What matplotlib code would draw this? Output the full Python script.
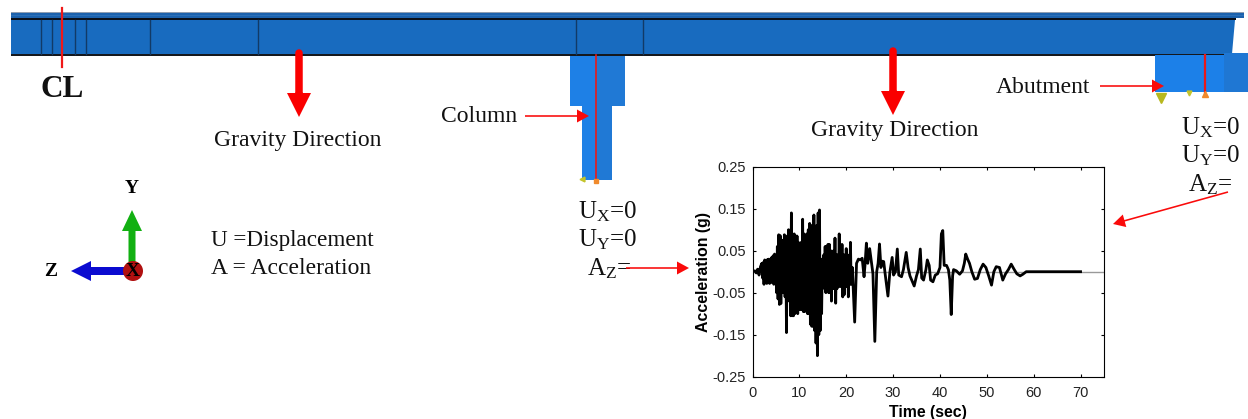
import matplotlib
matplotlib.use('Agg')
import matplotlib.pyplot as plt
from matplotlib.patches import Rectangle, Polygon, Circle, FancyArrow

plt.rcParams['font.family'] = ['Liberation Serif', 'DejaVu Serif']
plt.rcParams['mathtext.fontset'] = 'custom'
plt.rcParams['mathtext.rm'] = 'Liberation Serif'

# record: start, dense part, then the tail
start_time = [0, 0.5, 0.8, 1.1, 1.4, 1.7]
start_accel = [0, 0.002, -0.003, 0.006, -0.008, 0.012]

dense_time = [2.0, 2.15, 2.3, 2.45, 2.6, 2.75, 2.9, 3.05, 3.2, 3.35, 3.5, 3.65, 3.8, 3.95, 4.1, 4.25,
              4.4, 4.55, 4.7, 4.85, 5.0, 5.15, 5.3, 5.45, 5.6, 5.75, 5.9, 6.05, 6.2, 6.35, 6.5, 6.65,
              6.8, 6.95, 7.1, 7.25, 7.4, 7.55, 7.7, 7.85, 8.0, 8.15, 8.3, 8.45, 8.6, 8.75, 8.9, 9.05,
              9.2, 9.35, 9.5, 9.65, 9.8, 9.95, 10.1, 10.25, 10.4, 10.55, 10.7, 10.85, 11.0, 11.15, 11.3, 11.45,
              11.6, 11.75, 11.9, 12.05, 12.2, 12.35, 12.5, 12.65, 12.8, 12.95, 13.1, 13.25, 13.4, 13.55, 13.7, 13.85,
              14.0, 14.15, 14.3, 14.45, 14.6, 14.75, 14.9, 15.05, 15.2, 15.35, 15.5, 15.65, 15.8, 15.95, 16.1, 16.25,
              16.4, 16.55, 16.7, 16.85, 17.0, 17.15, 17.3, 17.45, 17.6, 17.75, 17.9, 18.05, 18.2, 18.35, 18.5, 18.65,
              18.8, 18.95, 19.1, 19.25, 19.4, 19.55, 19.7, 19.85, 20.0, 20.15, 20.3, 20.45, 20.6, 20.75, 20.9, 21.05]
dense_accel = [0.02, -0.015, 0.022, -0.03, 0.028, -0.022, 0.026, -0.028, 0.029, -0.022, 0.03, -0.028, 0.024, -0.026, 0.034, -0.024,
               0.038, -0.03, 0.042, -0.028, 0.036, -0.05, 0.06, -0.065, 0.088, -0.078, 0.086, -0.076, 0.055, -0.05, 0.075, -0.05,
               0.088, -0.06, 0.08, -0.145, 0.085, -0.06, 0.1, -0.07, 0.095, -0.105, 0.14, -0.105, 0.085, -0.105, 0.09, -0.1,
               0.085, -0.09, 0.085, -0.1, 0.07, -0.09, 0.065, -0.09, 0.07, -0.09, 0.125, -0.095, 0.09, -0.095, 0.07, -0.06,
               0.09, -0.1, 0.1, -0.1, 0.115, -0.125, 0.11, -0.13, 0.1, -0.13, 0.135, -0.14, 0.09, -0.17, 0.11, -0.2,
               0.14, -0.15, 0.147, -0.14, 0.03, -0.1, 0.03, -0.03, 0.04, -0.04, 0.06, -0.05, 0.06, -0.045, 0.065, -0.05,
               0.065, -0.05, 0.05, -0.07, 0.04, -0.04, 0.05, -0.04, 0.08, -0.075, 0.04, -0.04, 0.04, -0.035, 0.09, -0.035,
               0.04, -0.035, 0.065, -0.06, 0.04, -0.055, 0.04, -0.035, 0.055, -0.035, 0.04, -0.06, 0.03, -0.03, 0.07, -0.03]

tail_time = [21.3, 21.8, 22.2, 22.6, 23.0, 23.4, 23.8, 24.0, 24.3, 24.6,
             25.0, 25.3, 25.7, 26.1, 26.5, 26.8, 27.1, 27.4, 27.7, 28.0,
             28.3, 28.9, 29.3, 29.8, 30.1, 30.5, 30.9, 31.2, 31.8, 32.2,
             32.8, 33.2, 33.6, 34.5, 35.0, 35.4, 35.8, 36.1, 36.5, 37.0,
             37.3, 37.7, 38.0, 38.5, 39.0, 39.5, 40.0, 40.3, 40.6, 40.9,
             41.4, 41.8, 42.1, 42.4, 42.7, 42.9, 43.5, 44.2, 44.8, 45.2,
             45.5, 45.9, 46.3, 46.8, 47.4, 48.0, 48.6, 49.2, 49.8, 50.4,
             51.0, 51.5, 52.0, 52.7, 53.4, 54.0, 54.6, 55.2, 55.8, 56.4,
             57.1, 57.7, 58.4, 60, 65, 70]
tail_accel = [0.01, -0.12, 0.02, 0.03, 0.028, 0.032, -0.012, 0.015, 0.068, 0.02,
              0.055, 0.03, -0.005, -0.166, 0, 0.02, 0.066, 0.01, 0.025, 0.024,
              -0.005, -0.058, -0.002, 0.034, -0.008, 0, 0.054, -0.008, -0.012, 0.005,
              0.046, 0.01, -0.01, -0.034, -0.01, 0.005, 0.054, -0.015, -0.02, 0.005,
              0.028, 0.015, -0.02, -0.024, -0.008, -0.005, 0.01, 0.09, 0.098, 0.015,
              0.015, 0.005, -0.02, -0.102, -0.01, 0.005, 0.002, -0.006, 0.002, 0.02,
              0.042, 0.03, 0.02, 0, -0.018, -0.016, 0.005, 0.018, 0.01, -0.01,
              -0.032, 0, 0.012, 0.01, -0.02, -0.005, 0.005, 0.018, 0.006, -0.005,
              -0.01, -0.006, 0, 0, 0, 0]

x_ticks = [0, 10, 20, 30, 40, 50, 60, 70]
y_ticks = [-0.25, -0.15, -0.05, 0.05, 0.15, 0.25]
y_tick_labels = ['-0.25', '-0.15', '-0.05', '0.05', '0.15', '0.25']

# bridge model outlines, in picture pixels
deck_seams = [41, 52, 75, 86, 150, 258, 576, 643]
gravity_arrows = [(299, 50), (893, 48)]

W, H = 1248, 419
fig = plt.figure(figsize=(W / 100, H / 100), dpi=100)

sk = fig.add_axes([0, 0, 1, 1])
sk.set_xlim(0, W)
sk.set_ylim(H, 0)
sk.axis('off')


def rect(x0, y0, x1, y1, col, z=1):
    sk.add_patch(Rectangle((x0, y0), x1 - x0, y1 - y0, fc=col, ec='none', zorder=z))


def arrow(x0, y0, x1, y1, col='#fa0a0a', w=1.6, hw=13, hl=12, z=6):
    sk.add_patch(FancyArrow(x0, y0, x1 - x0, y1 - y0, width=w, head_width=hw, head_length=hl,
                            length_includes_head=True, fc=col, ec='none', zorder=z))


def label(x, y, s, size=17, ha='left', **kw):
    sk.text(x, y + 1.5, s, fontsize=size, ha=ha, va='center', color='#111111', **kw)


# deck
rect(11, 12, 1244, 18, '#1c62ad')
rect(11, 12, 1244, 13, '#8f9db0')
rect(11, 15, 1244, 16, '#2a6fb8')
rect(11, 18, 1236, 20.5, '#0a0f18')
sk.add_patch(Polygon([(11, 20), (1235, 20), (1232, 54), (11, 54)], fc='#186bbf', ec='none', zorder=1))
rect(11, 54, 1232, 56, '#15181d')
for s in deck_seams:
    sk.plot([s, s], [20, 54], color='#123a66', lw=1, zorder=2)

# column
rect(570, 56, 597, 106, '#1e80e6')
rect(597, 56, 625, 106, '#2079d5')
rect(581.5, 106, 597, 180, '#1e80e6')
rect(597, 106, 612, 180, '#2079d5')
sk.plot([596, 596], [55, 181], color='#e81818', lw=1.2, zorder=5)
sk.plot([596], [181.5], marker='s', ms=3.5, color='#f08a2c', zorder=5)
sk.plot([582], [179], marker='<', ms=3.5, color='#c4c42a', zorder=5)

# abutment
rect(1155, 55, 1224, 92, '#1c80e8')
rect(1224, 53, 1248, 92, '#1f77d3')
sk.plot([1205, 1205], [55, 95], color='#e81818', lw=1.6, zorder=5)
sk.plot([1161], [98], marker='v', ms=7, color='#b8b81e', zorder=5)
sk.plot([1189], [93], marker='v', ms=3.5, color='#c4c42a', zorder=5)
sk.plot([1205], [94], marker='^', ms=4, color='#f08a2c', zorder=5)

# centre line
sk.plot([61.5, 61.5], [8, 67], color='#f01818', lw=1.6, zorder=5)
label(41, 88, 'CL', size=22.5, weight='bold')

# gravity
for gx, gy in gravity_arrows:
    sk.plot([gx, gx], [gy + 3, gy + 45], color='#fa0000', lw=5.4, solid_capstyle='round', zorder=6)
    arrow(gx, gy + 42, gx, gy + 67, col='#fa0000', w=7, hw=24, hl=24)
label(214, 139, 'Gravity Direction')
label(811, 129, 'Gravity Direction')

# callouts
label(441, 115, 'Column')
arrow(525, 116, 589, 116)
label(996, 86, 'Abutment')
arrow(1100, 86, 1164, 86)
arrow(626, 268, 689, 268)
arrow(1228, 192, 1113, 224)

# boundary conditions
label(578, 210, r'$\mathrm{U_X}$=0', size=18)
label(578, 238, r'$\mathrm{U_Y}$=0', size=18)
label(587, 267, r'$\mathrm{A_Z}$=', size=18)
label(1181, 126, r'$\mathrm{U_X}$=0', size=18)
label(1181, 154, r'$\mathrm{U_Y}$=0', size=18)
label(1188, 183, r'$\mathrm{A_Z}$=', size=18)

# notes
label(211, 239, 'U =Displacement', size=16.7)
label(211, 267, 'A = Acceleration', size=17)

# axis triad
arrow(132, 262, 132, 210, col='#12b012', w=7, hw=20, hl=21, z=3)
arrow(125, 271, 71, 271, col='#0b0bd0', w=8, hw=20, hl=20, z=3)
sk.add_patch(Circle((133, 271), 10, fc='#b01010', ec='none', zorder=4))
sk.text(133, 271, 'X', fontsize=14, weight='bold', ha='center', va='center', zorder=5)
sk.text(132, 188, 'Y', fontsize=14, weight='bold', ha='center', va='center')
sk.text(51, 271, 'Z', fontsize=14, weight='bold', ha='center', va='center')

# acceleration record
ax = fig.add_axes([752.5 / W, 1 - 376.7 / H, 351.5 / W, 210 / H])
ax.axhline(0, color='#999999', lw=1, zorder=1)
ax.plot(start_time + dense_time + tail_time, start_accel + dense_accel + tail_accel,
        color='black', lw=2.0, solid_joinstyle='round', zorder=2)
ax.set_xlim(0, 75)
ax.set_ylim(-0.25, 0.25)
ax.set_xticks(x_ticks)
ax.set_yticks(y_ticks)
ax.set_yticklabels(y_tick_labels)
ax.tick_params(direction='in', top=True, right=True, length=2.5, width=0.8, labelsize=10.5, labelcolor='#222222')
ax.tick_params(axis='x', pad=7)
ax.tick_params(axis='y', pad=5)
for lab in ax.get_xticklabels() + ax.get_yticklabels():
    lab.set_family('Liberation Sans')
ax.set_xlabel('Time (sec)', family='Liberation Sans', weight='bold', fontsize=11.4, labelpad=3)
ax.set_ylabel('Acceleration (g)', family='Liberation Sans', weight='bold', fontsize=11.4, labelpad=1)

fig.savefig('out.png', dpi=100)
